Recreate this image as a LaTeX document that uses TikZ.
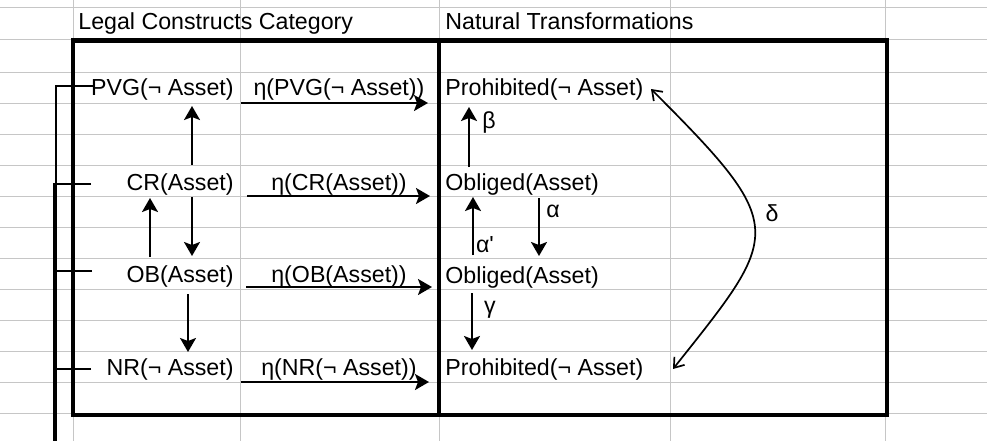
\documentclass[tikz,border=0pt]{standalone}
\usepackage{fontspec}
\setmainfont{Liberation Sans}
\usetikzlibrary{arrows.meta}
\definecolor{sheetgray}{RGB}{198,198,198}

\begin{document}
\begin{tikzpicture}[x=0.5pt,y=-0.5pt,
	font=\fontsize{11.6pt}{14pt}\selectfont,
	sheetline/.style={sheetgray,line width=0.5pt},
	boxline/.style={line width=2.3pt},
	arr/.style={line width=1pt,-{Stealth[length=7pt,width=8pt,inset=1.5pt]}},
	barb/.style={line width=0.85pt,{Straight Barb[length=4.5pt,width=6.5pt]}-{Straight Barb[length=4.5pt,width=6.5pt]}},
	bracket/.style={line width=0.8pt},
	lab/.style={inner sep=0pt}]

	\useasboundingbox (0,0) rectangle (987,441);

	% sheet grid
	\foreach \y in {7,39,72,103,134,165,196,227,258,289,320,351,382,413}
		\draw[sheetline] (0,\y) -- (987,\y);
	\foreach \x in {73,240,439,670,885}
		\draw[sheetline] (\x,0) -- (\x,441);

	% frame
	\draw[boxline] (73,40.5) rectangle (887,415);
	\draw[boxline] (439,40.5) -- (439,415);

	% headings
	\node[lab,anchor=base west] (hcat) at (78,29.5) {Legal Constructs Category};
	\node[lab,anchor=base west] (hnat) at (445,29.5) {Natural Transformations};

	% legal constructs
	\node[lab,anchor=base east] (pvg) at (234,95)  {PVG(¬ Asset)};
	\node[lab,anchor=base east] (cr)  at (234,190) {CR(Asset)};
	\node[lab,anchor=base east] (ob)  at (234,282) {OB(Asset)};
	\node[lab,anchor=base east] (nr)  at (234,375) {NR(¬ Asset)};

	% components
	\node[lab,anchor=base] (eta1) at (339,95)  {η(PVG(¬ Asset))};
	\node[lab,anchor=base] (eta2) at (339,190) {η(CR(Asset))};
	\node[lab,anchor=base] (eta3) at (339,282) {η(OB(Asset))};
	\node[lab,anchor=base] (eta4) at (339,375) {η(NR(¬ Asset))};

	% natural transformations
	\node[lab,anchor=base west] (pro1) at (445,95)  {Prohibited(¬ Asset)};
	\node[lab,anchor=base west] (obl1) at (445,190) {Obliged(Asset)};
	\node[lab,anchor=base west] (obl2) at (445,283) {Obliged(Asset)};
	\node[lab,anchor=base west] (pro2) at (445,375) {Prohibited(¬ Asset)};

	% left arrows
	\draw[arr] ([shift={(-42,-25)}]cr.base east) -- ([shift={(-42,11)}]pvg.base east);
	\draw[arr] ([shift={(-42,7)}]cr.base east) -- ([shift={(-42,-26)}]ob.base east);
	\draw[arr] ([shift={(-84,-25)}]ob.base east) -- ([shift={(-84,8)}]cr.base east);
	\draw[arr] ([shift={(-46,12)}]ob.base east) -- ([shift={(-46,-23)}]nr.base east);

	% eta arrows
	\draw[arr] ([shift={(7,8)}]pvg.base east) -- ([shift={(-17,8)}]pro1.base west);
	\draw[arr] ([shift={(13,6)}]cr.base east) -- ([shift={(-15,6)}]obl1.base west);
	\draw[arr] ([shift={(12,5)}]ob.base east) -- ([shift={(-13,4)}]obl2.base west);
	\draw[arr] ([shift={(7,7)}]nr.base east) -- ([shift={(-16,7)}]pro2.base west);

	% right arrows
	\draw[arr] ([shift={(24,-23)}]obl1.base west) -- ([shift={(24,12)}]pro1.base west);
	\draw[arr] ([shift={(28,-28)}]obl2.base west) -- ([shift={(28,7)}]obl1.base west);
	\draw[arr] ([shift={(94,8)}]obl1.base west) -- ([shift={(94,-27)}]obl2.base west);
	\draw[arr] ([shift={(27,10)}]obl2.base west) -- ([shift={(27,-25)}]pro2.base west);
	\draw[barb] ([shift={(228,-6)}]pro2.base west) .. controls (781.5,232.5) and (790,228) .. ([shift={(206,-6)}]pro1.base west);

	\node (beta)  at (489,122) {β};
	\node (alpha) at (553,211) {α};
	\node (alph2) at (485,245) {α\textquotesingle};
	\node (gamma) at (490,310) {γ};
	\node (delta) at (772,213) {δ};

	% brackets
	\foreach \n/\dx/\dy/\bx in {pvg/-141/-9/56, cr/-143/-6/54, ob/-142/-11/56, nr/-143/-6/54}
		\draw[bracket] ([shift={(\dx,\dy)}]\n.base east) -| (\bx,441);

\end{tikzpicture}
\end{document}
